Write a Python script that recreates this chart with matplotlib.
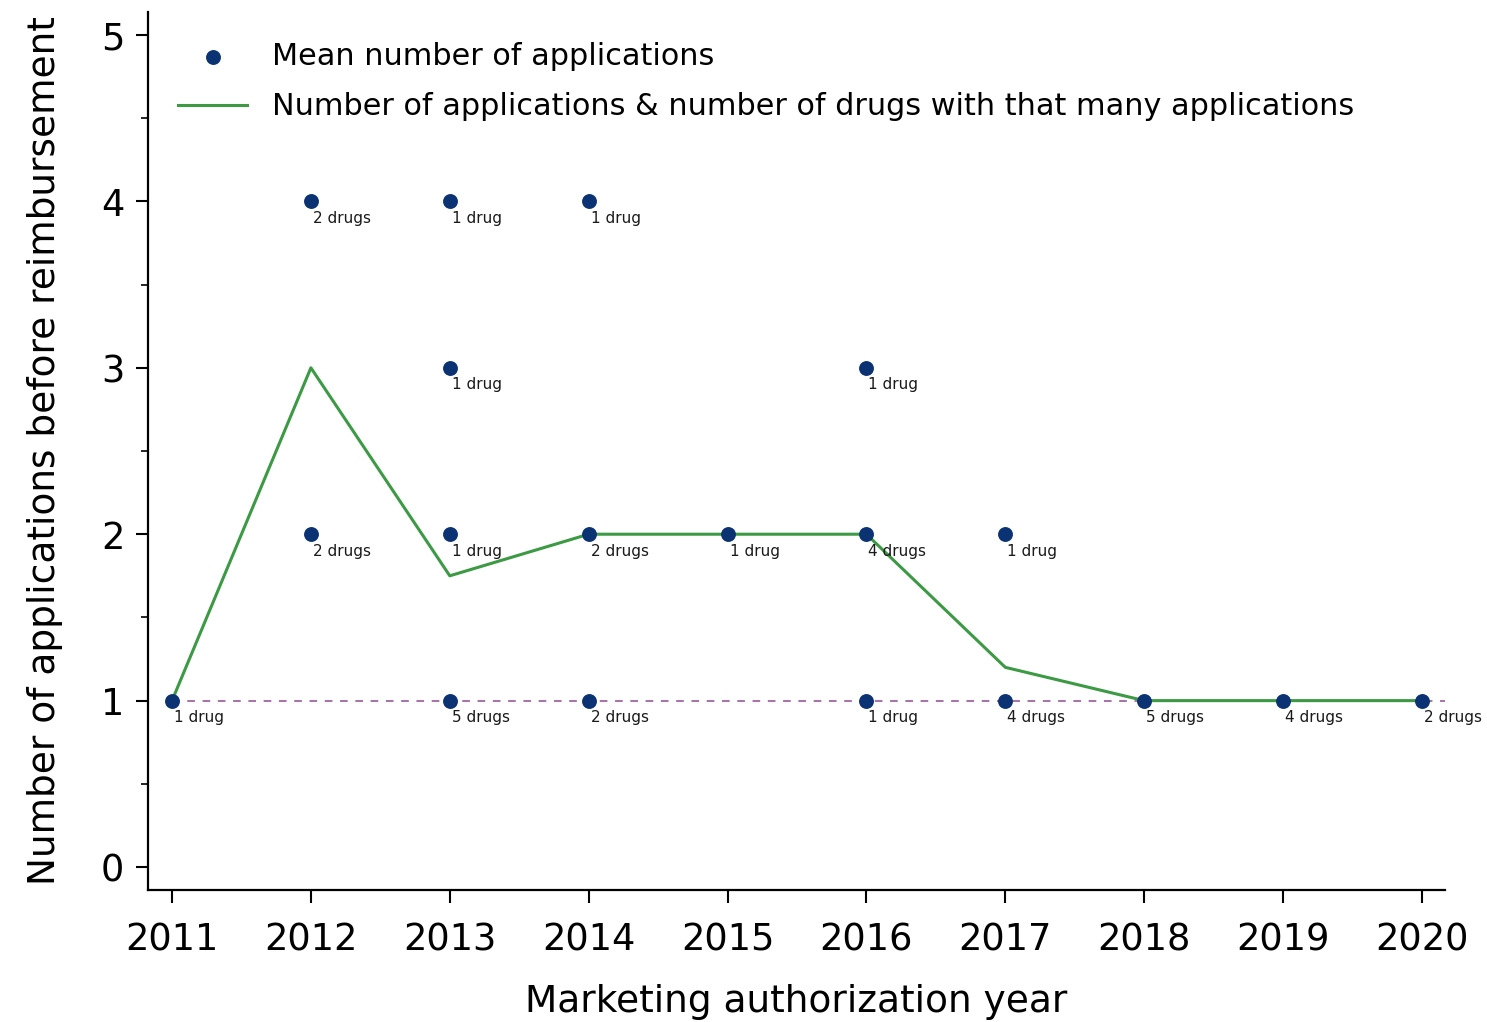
import matplotlib.pyplot as plt
import numpy as np

# observed (year, applications) points and the number of drugs at each
pt_years = [2011, 2012, 2012, 2013, 2013, 2013, 2013, 2014, 2014, 2014,
            2015, 2016, 2016, 2016, 2017, 2017, 2018, 2019, 2020]
pt_apps = [1, 4, 2, 4, 3, 2, 1, 4, 2, 1,
           2, 3, 2, 1, 2, 1, 1, 1, 1]
pt_drugs = [1, 2, 2, 1, 1, 1, 5, 1, 2, 2,
            1, 1, 4, 1, 1, 4, 5, 4, 2]

# mean number of applications per year
years = [2011, 2012, 2013, 2014, 2015, 2016, 2017, 2018, 2019, 2020]
mean_apps = [1, 3, 1.75, 2, 2, 2, 1.2, 1, 1, 1]

navy = '#0b3272'
green = '#3c9a44'
purple = '#8e4a92'

fig = plt.figure(figsize=(14.87, 10.22), dpi=100)
ax = fig.add_axes([148 / 1487, 1 - 890 / 1022, (1445 - 148) / 1487, (890 - 12) / 1022])

ax.plot([2011, 2020.18], [1, 1], ls=(0, (5, 5)), color=purple, lw=1.1, zorder=1)
ax.plot(years, mean_apps, color=green, lw=2.2, zorder=2,
        label='Number of applications & number of drugs with that many applications')
ax.scatter(pt_years, pt_apps, s=115, color=navy, zorder=3, linewidths=0,
           label='Mean number of applications')

for x, y, n in zip(pt_years, pt_apps, pt_drugs):
    lab = f'{n} drug' if n == 1 else f'{n} drugs'
    ax.annotate(lab, (x, y), xytext=(2, -17), textcoords='offset pixels',
                ha='left', va='center', fontsize=11, color='#1a1a1a')

ax.set_xlim(2010.827, 2020.166)
ax.set_ylim(-0.138, 5.138)
ax.set_xticks(years)
ax.set_yticks([0, 1, 2, 3, 4, 5])
ax.set_yticks(np.arange(0.5, 5, 1), minor=True)
ax.tick_params(axis='both', which='major', labelsize=26.5, length=9, width=1.5, direction='out')
ax.tick_params(axis='y', which='minor', length=5, width=1.2)
ax.tick_params(axis='x', pad=14)
ax.tick_params(axis='y', pad=8)
for s in ['top', 'right']:
    ax.spines[s].set_visible(False)
for s in ['left', 'bottom']:
    ax.spines[s].set_linewidth(1.6)

ax.set_xlabel('Marketing authorization year', fontsize=27, labelpad=18)
ax.set_ylabel('Number of applications before reimbursement', fontsize=27, labelpad=27)

h, l = ax.get_legend_handles_labels()
ax.legend(h[::-1], l[::-1], loc='upper left', bbox_to_anchor=(0.023, 0.966), frameon=False,
          fontsize=21.8, handlelength=2.3, handletextpad=0.8, labelspacing=0.71,
          borderaxespad=0, borderpad=0)

fig.savefig('out.png', dpi=100)
